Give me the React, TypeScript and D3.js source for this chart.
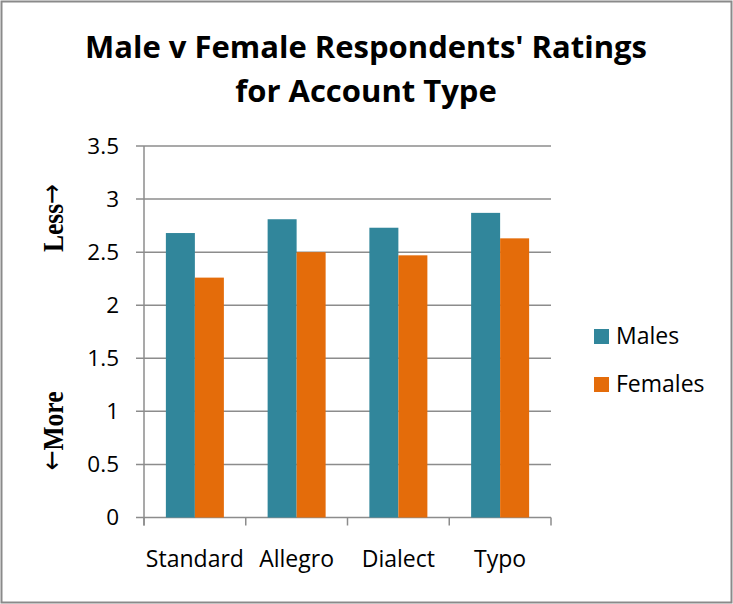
import React from "react";
import * as d3 from "d3";

const categories = ["Standard", "Allegro", "Dialect", "Typo"];
const seriesNames = ["Males", "Females"];
const males = [2.68, 2.81, 2.73, 2.87];
const females = [2.26, 2.5, 2.47, 2.63];
const yTicks = [0, 0.5, 1, 1.5, 2, 2.5, 3, 3.5];
const colors = ["#31869B", "#E46C0A"];

const W = 733;
const H = 604;
const left = 144;
const right = 551;
const top = 146;
const bottom = 517.5;
const font = "'Open Sans', 'Liberation Sans', sans-serif";
const serif = "'Liberation Serif', 'DejaVu Serif', serif";
const arrowFont = "'DejaVu Sans', sans-serif";

export default function App() {
  const x0 = d3.scaleBand<string>().domain(categories).range([left, right]).paddingInner(0).paddingOuter(0);
  const y = d3.scaleLinear().domain([0, 3.5]).range([bottom, top]);
  const barW = 29;
  const series = [males, females];
  return (
    <svg width={W} height={H} style={{ position: "absolute", left: 0, top: 0, background: "#fff" }}>
      <rect x={1.5} y={1.5} width={W - 3} height={H - 3} fill="#fff" stroke="#8a8a8a" strokeWidth={2} />
      <text x={366} y={57.5} textAnchor="middle" fontFamily={font} fontWeight={700} fontSize={31} fill="#000">
        Male v Female Respondents' Ratings
      </text>
      <text x={366} y={102} textAnchor="middle" fontFamily={font} fontWeight={700} fontSize={31} fill="#000">
        for Account Type
      </text>
      {yTicks.map((t) => (
        <g key={t}>
          <line x1={136} x2={right} y1={y(t)} y2={y(t)} stroke="#8c8c8c" strokeWidth={1.5} />
          <text x={119} y={y(t) + 7.5} textAnchor="end" fontFamily={font} fontSize={22.5} fill="#000">
            {t}
          </text>
        </g>
      ))}
      <line x1={left} x2={left} y1={top} y2={bottom + 8} stroke="#8c8c8c" strokeWidth={1.5} />
      {categories.map((c, i) => (
        <line key={"t" + i} x1={x0(c)!} x2={x0(c)!} y1={bottom} y2={bottom + 8} stroke="#8c8c8c" strokeWidth={1.5} />
      ))}
      <line x1={right} x2={right} y1={bottom} y2={bottom + 8} stroke="#8c8c8c" strokeWidth={1.5} />
      {categories.map((c, i) => {
        const cx = x0(c)! + x0.bandwidth() / 2;
        return (
          <g key={c}>
            {series.map((s, j) => (
              <rect
                key={j}
                x={cx - barW + j * barW}
                y={y(s[i])}
                width={barW}
                height={y(0) - y(s[i])}
                fill={colors[j]}
              />
            ))}
            <text x={cx} y={566.5} textAnchor="middle" fontFamily={font} fontSize={23} fill="#000">
              {c}
            </text>
          </g>
        );
      })}
      <text transform={`translate(63,218) rotate(-90) scale(0.85,1)`} textAnchor="middle" fontFamily={serif} fontWeight={700} fontSize={30} fill="#000">
        Less<tspan fontFamily={arrowFont} fontWeight={400} fontSize={28} dy={-2}>→</tspan>
      </text>
      <text transform={`translate(63,431) rotate(-90) scale(0.85,1)`} textAnchor="middle" fontFamily={serif} fontWeight={700} fontSize={30} fill="#000">
        <tspan fontFamily={arrowFont} fontWeight={400} fontSize={28} dy={-2}>←</tspan><tspan dy={2}>More</tspan>
      </text>
      {seriesNames.map((n, j) => (
        <g key={n}>
          <rect x={594} y={329 + j * 48} width={15} height={15} fill={colors[j]} />
          <text x={616} y={344 + j * 48} fontFamily={font} fontSize={23} fill="#000">
            {n}
          </text>
        </g>
      ))}
    </svg>
  );
}
